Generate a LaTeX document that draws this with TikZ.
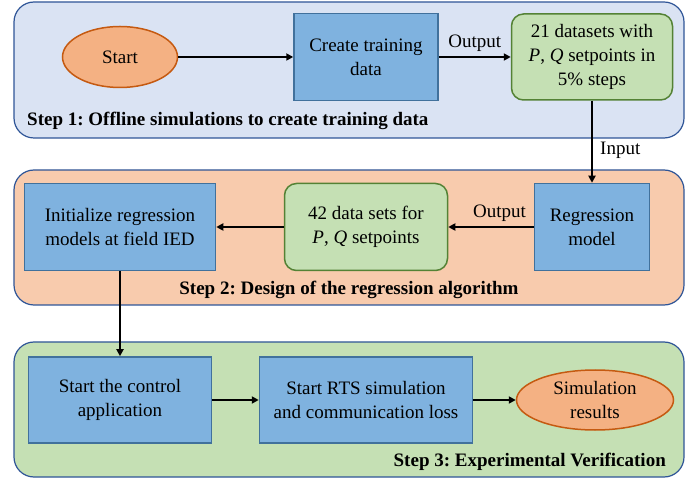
\documentclass[tikz,border=0pt]{standalone}
\usepackage{fontspec}
\setmainfont{Liberation Serif}
\usetikzlibrary{arrows.meta,shapes.geometric}
\frenchspacing
\definecolor{panelblue}{HTML}{DAE3F3}
\definecolor{panelorange}{HTML}{F8CBAD}
\definecolor{panelgreen}{HTML}{C5E0B4}
\definecolor{panelline}{HTML}{2F5597}
\definecolor{boxblue}{HTML}{7FB2DF}
\definecolor{boxblueline}{HTML}{41719C}
\definecolor{ovalfill}{HTML}{F4B183}
\definecolor{ovalline}{HTML}{C55A11}
\definecolor{greenfill}{HTML}{C5E0B4}
\definecolor{greenline}{HTML}{548235}
\tikzset{
  panel/.style={draw=panelline, line width=1.2pt, rounded corners=20pt},
  procbox/.style={draw=boxblueline, fill=boxblue, line width=1.5pt, align=center, inner sep=0pt},
  databox/.style={draw=greenline, fill=greenfill, line width=1.5pt, rounded corners=12pt, align=center, inner sep=0pt},
  oval/.style={ellipse, draw=ovalline, fill=ovalfill, line width=1.5pt, align=center, inner sep=0pt},
  conn/.style={line width=1.8pt, -{Triangle[length=7pt,width=7pt]}},
  lbl/.style={font=\fontsize{19}{23}\selectfont},
  steplbl/.style={font=\fontsize{19}{23}\selectfont\bfseries, inner sep=0pt},
}
\begin{document}
\begin{tikzpicture}[x=1pt,y=-1pt, every node/.style={font=\fontsize{19}{24}\selectfont}]
\useasboundingbox (0,0) rectangle (699,478);
% panels
\draw[panel, fill=panelblue] (14,2) rectangle (684,138);
\draw[panel, fill=panelorange] (14,170) rectangle (684,305);
\draw[panel, fill=panelgreen] (14,342) rectangle (684,477);
% step 1
\node[oval, minimum width=115pt, minimum height=61pt] (start) at (120,57) {Start};
\node[procbox, minimum width=144pt, minimum height=87pt] (create) at (366,57) {Create training\\data};
\node[databox, minimum width=161pt, minimum height=86pt] (ds21) at (592,57) {21 datasets with\\\textit{P}, \textit{Q} setpoints in\\5\% steps};
\node[steplbl, anchor=west] (s1) at (27,121) {Step 1: Offline simulations to create training data};
% step 2
\node[procbox, minimum width=191pt, minimum height=87pt] (init) at (120,227) {Initialize regression\\models at field IED};
\node[databox, minimum width=163pt, minimum height=87pt] (ds42) at (366,227) {42 data sets for\\\textit{P}, \textit{Q} setpoints};
\node[procbox, minimum width=115pt, minimum height=87pt] (reg) at (592,227) {Regression\\model};
\node[steplbl] (s2) at (349,290) {Step 2: Design of the regression algorithm};
% step 3
\node[procbox, minimum width=183pt, minimum height=86pt] (ctrl) at (120,400) {Start the control\\application};
\node[procbox, minimum width=213pt, minimum height=86pt] (rts) at (366,400) {Start RTS simulation\\and communication loss};
\node[oval, minimum width=157pt, minimum height=60pt] (res) at (595,400) {Simulation\\results};
\node[steplbl, anchor=east] (s3) at (666,462) {Step 3: Experimental Verification};
% connectors
\draw[conn] (start) -- (create);
\draw[conn] (create) -- node[lbl, above=1pt] {Output} (ds21);
\draw[conn] (ds21.south) -- node[lbl, right=4pt, pos=0.6] {Input} (reg.north);
\draw[conn] (reg) -- node[lbl, above=1pt, pos=0.4] {Output} (ds42);
\draw[conn] (ds42) -- (init);
\draw[conn] (init.south) -- (ctrl.north);
\draw[conn] (ctrl) -- (rts);
\draw[conn] (rts) -- (res);
\end{tikzpicture}
\end{document}
